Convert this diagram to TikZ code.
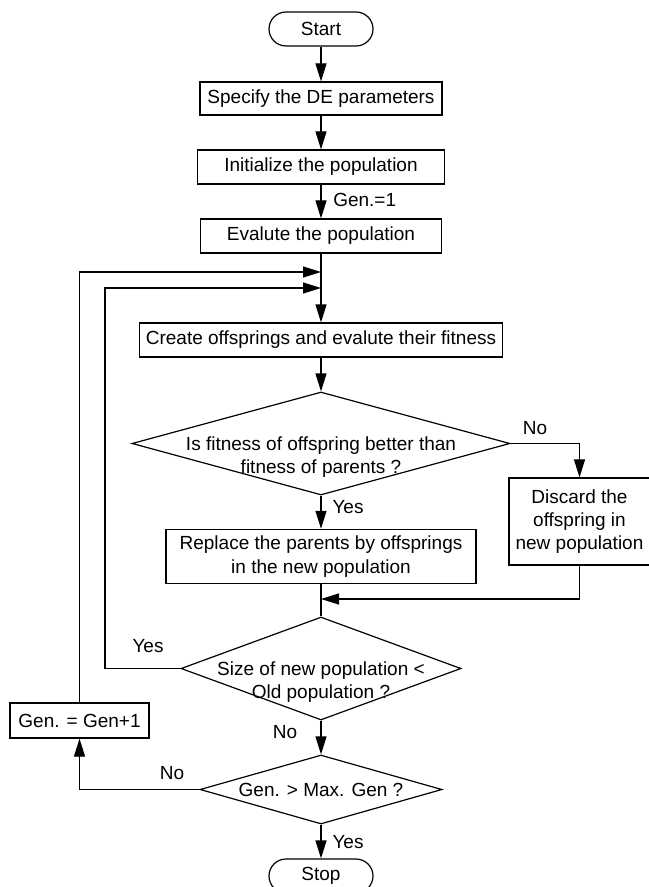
\documentclass[tikz,border=0pt]{standalone}
\usepackage{fontspec}
\setmainfont{Liberation Sans}
\usetikzlibrary{positioning,shapes.geometric,arrows.meta}

\newcommand{\flowfont}{\fontsize{9.5pt}{11.6pt}\selectfont}
\newcommand{\dectext}[1]{\raisebox{-3.3pt}[0pt][0pt]{\makebox[0pt]{\begin{tabular}[t]{@{}c@{}}#1\end{tabular}}}}

\begin{document}
\begin{tikzpicture}[x=0.5pt,y=-0.5pt,line width=0.6pt,
    every node/.style={font=\flowfont},
    stepbox/.style={draw, rectangle, align=center},
    termbox/.style={draw, rectangle, rounded corners=8.5pt, minimum width=52pt, minimum height=17pt},
    decision/.style={draw, diamond, inner sep=0pt},
    flow/.style={-{Triangle[length=9pt,width=5.5pt]}}]
    \useasboundingbox (0,0) rectangle (648,887);

    \node[termbox] (start) at (321,29) {Start};
    \node[stepbox, minimum width=121pt, minimum height=16.5pt] (spec) at (321,98.5) {Specify the DE parameters};
    \node[stepbox, minimum width=123.5pt, minimum height=17pt] (init) at (321,167) {Initialize the population};
    \node[stepbox, minimum width=120.5pt, minimum height=17pt] (eval) at (321,236) {Evalute the population};
    \node[stepbox, minimum width=181pt, minimum height=17pt] (create) at (321,340) {Create offsprings and evalute their fitness};
    \node[decision, minimum width=189pt, minimum height=51.5pt] (fitness) at (321,443.5) {\dectext{Is fitness of offspring better than\\fitness of parents ?}};
    \node[stepbox, minimum width=155pt, minimum height=25.5pt] (replace) at (321,556.5) {Replace the parents by offsprings\\in the new population};
    \node[stepbox, minimum width=68pt, minimum height=43.5pt] (discard) at (579.5,521.5) {Discard the\\offspring in\\new population};
    \node[decision, minimum width=140pt, minimum height=51.5pt] (size) at (321,668.5) {\dectext{Size of new population <\\Old population ?}};
    \node[decision, minimum width=121pt, minimum height=34.5pt] (maxgen) at (321,789.5) {\dectext{Gen. > Max. Gen ?}};
    \node[stepbox, minimum width=69.5pt, minimum height=17.5pt] (nextgen) at (79.5,720.5) {Gen. = Gen+1};
    \node[termbox] (stop) at (321,876) {Stop};

    % join points on the main line
    \coordinate (outerjoin) at (321,272);
    \coordinate (innerjoin) at (321,288);
    \coordinate (innerturn) at (105,288);
    \coordinate (mergejoin) at (321,599);

    \path
        (start) edge[flow] (spec)
        (spec) edge[flow] (init)
        (init) edge[flow] (eval)
        (eval) edge[flow] (create)
        (create) edge[flow] (fitness)
        (fitness) edge[flow] (replace)
        (replace) edge (size)
        (size) edge[flow] (maxgen)
        (maxgen) edge[flow] (stop)
        ;
    \draw[flow] (fitness.east) -| (discard.north);
    \draw[flow] (discard.south) |- (mergejoin);
    \draw[flow] (size.west) -| (innerturn) -- (innerjoin);
    \draw[flow] (maxgen.west) -| (nextgen.south);
    \draw[flow] (nextgen.north) |- (outerjoin);

    % branch labels
    \node[anchor=west] (lblinit) at (326,200) {Gen.=1};
    \node (lblnofit) at (535,428) {No};
    \node (lblyesfit) at (348,507) {Yes};
    \node (lblyessize) at (148,646) {Yes};
    \node (lblnosize) at (285,732) {No};
    \node (lblnogen) at (172,773) {No};
    \node (lblyesgen) at (348,842) {Yes};
\end{tikzpicture}
\end{document}
